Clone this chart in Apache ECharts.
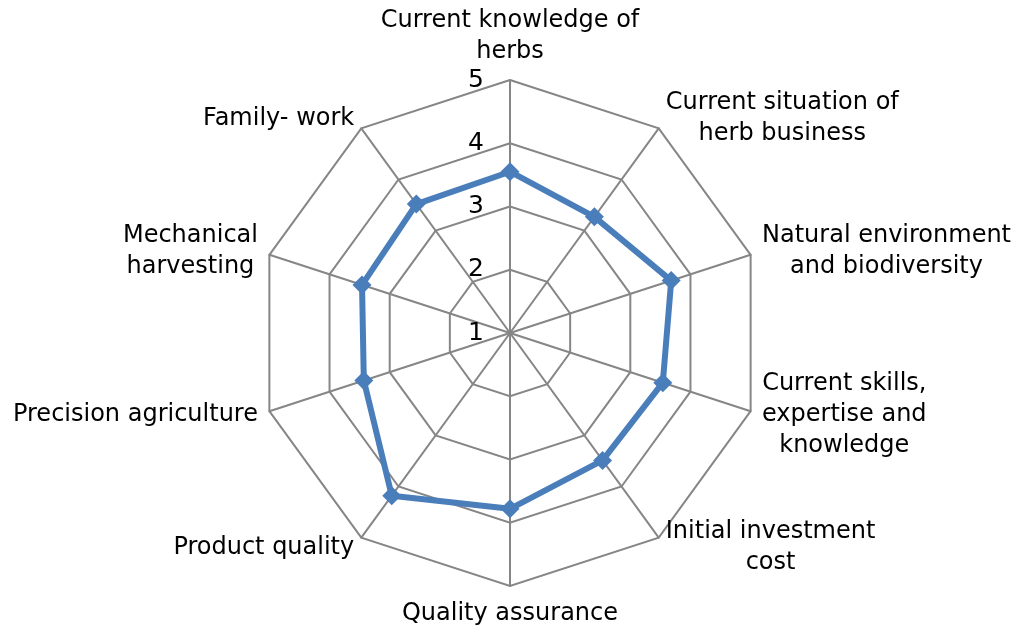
<!DOCTYPE html>
<html>
<head>
<meta charset="utf-8">
<script src="https://cdn.jsdelivr.net/npm/echarts@6/dist/echarts.min.js"></script>
<style>
html, body { margin: 0; padding: 0; background: #fff; }
#chart { width: 1013px; height: 632px; }
</style>
</head>
<body>
<div id="chart"></div>
<script>
// axes in clockwise order, starting at the top
var categories = [
    'Current knowledge of\nherbs',
    'Current situation of\nherb business',
    'Natural environment\nand biodiversity',
    'Current skills,\nexpertise and\nknowledge',
    'Initial investment\ncost',
    'Quality assurance',
    'Product quality',
    'Precision agriculture',
    'Mechanical\nharvesting',
    'Family- work'
];
var scores = [3.55, 3.27, 3.68, 3.54, 3.49, 3.78, 4.18, 3.43, 3.46, 3.52];
var axisMin = 1, axisMax = 5;

var fontName = 'DejaVu Sans';
var fontSize = 24;
var lineColor = '#868686';
var seriesColor = '#4a7ebb';

// echarts lays radar axes out counter-clockwise, so keep the first and reverse the rest
var order = [0];
for (var i = categories.length - 1; i > 0; i--) order.push(i);

var indicators = order.map(function (idx, k) {
    var ind = { name: categories[idx], min: axisMin, max: axisMax };
    if (k === 0) {
        ind.axisLabel = {
            show: true,
            color: '#000',
            fontFamily: fontName,
            fontSize: 25,
            margin: 26
        };
    }
    return ind;
});
var values = order.map(function (idx) { return scores[idx]; });

var myChart = echarts.init(document.getElementById('chart'));
var option = {
    animation: false,
    radar: {
        center: [510, 333],
        radius: 253,
        startAngle: 90,
        shape: 'polygon',
        splitNumber: 4,
        indicator: indicators,
        axisNameGap: 12,
        axisName: {
            color: '#000',
            fontFamily: fontName,
            fontSize: fontSize,
            lineHeight: 31,
            formatter: function (name) {
                return name.split('\n').map(function (l) { return '{c|' + l + '}'; }).join('\n');
            },
            rich: {
                c: { align: 'center', color: '#000', fontFamily: fontName, fontSize: fontSize, lineHeight: 31 }
            }
        },
        axisLine: { lineStyle: { color: lineColor, width: 2 } },
        splitLine: { lineStyle: { color: lineColor, width: 2 } },
        splitArea: { show: false },
        axisTick: { show: false }
    },
    series: [{
        type: 'radar',
        symbol: 'diamond',
        symbolSize: 19,
        lineStyle: { color: seriesColor, width: 6 },
        itemStyle: { color: seriesColor },
        data: [{
            value: values,
            name: 'Score',
            lineStyle: { color: seriesColor, width: 6 }
        }]
    }]
};
myChart.setOption(option);
</script>
</body>
</html>
